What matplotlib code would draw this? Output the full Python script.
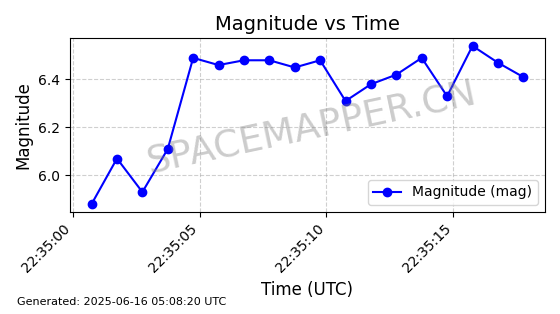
import pandas as pd
import matplotlib
matplotlib.use('Agg')
import matplotlib.pyplot as plt
import matplotlib.dates as mdates

# Data
times = pd.date_range('2025-06-15 22:35:00.750', periods=18, freq='1s')
magnitude = [5.88, 6.07, 5.93, 6.11, 6.49, 6.46, 6.48, 6.48, 6.45,
             6.48, 6.31, 6.38, 6.42, 6.49, 6.33, 6.54, 6.47, 6.41]

fig, ax = plt.subplots(figsize=(5.6, 3.14), dpi=100)
fig.subplots_adjust(left=0.125, right=0.973, top=0.879, bottom=0.325)

ax.plot(times, magnitude, 'o-', color='blue', linewidth=1.5, markersize=6,
        label='Magnitude (mag)')

ax.set_title('Magnitude vs Time', fontsize=14)
ax.set_xlabel('Time (UTC)', fontsize=12)
ax.set_ylabel('Magnitude', fontsize=12)
ax.grid(True, linestyle='--', alpha=0.6)
ax.legend(loc='lower right', fontsize=10)

ax.xaxis.set_major_locator(mdates.SecondLocator(bysecond=range(0, 60, 5)))
ax.xaxis.set_major_formatter(mdates.DateFormatter('%H:%M:%S'))
plt.setp(ax.get_xticklabels(), rotation=45, ha='right')

# Watermark
ax.text(0.51, 0.48, 'SPACEMAPPER.CN', transform=ax.transAxes, fontsize=27,
        color='gray', alpha=0.4, rotation=12, ha='center', va='center')

fig.text(0.03, 0.03, 'Generated: 2025-06-16 05:08:20 UTC', fontsize=8)

plt.savefig('out.png', dpi=100)
